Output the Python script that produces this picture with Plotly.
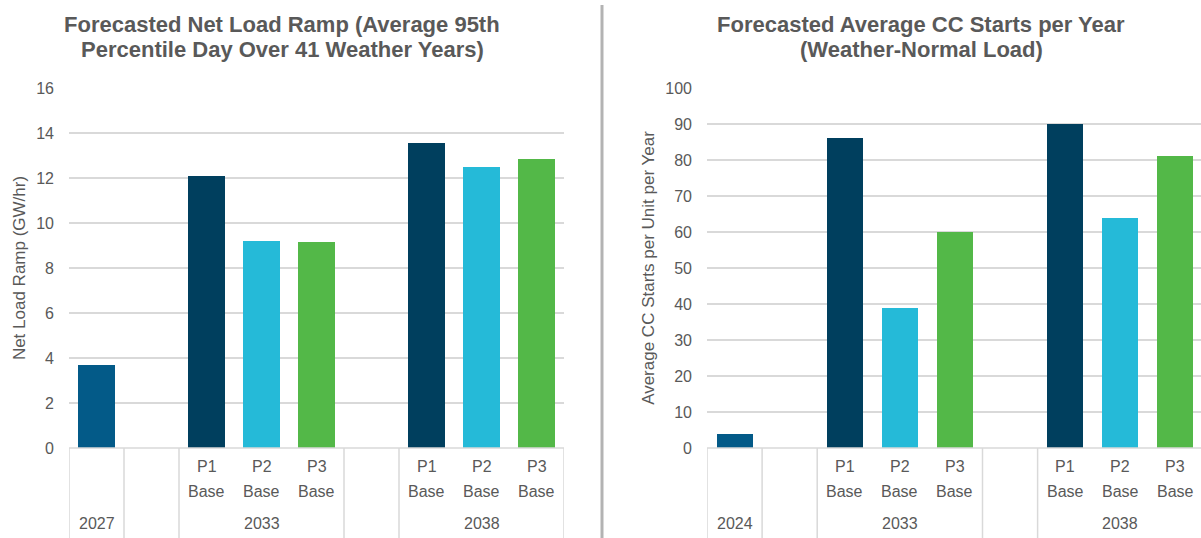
import plotly.graph_objects as go

# ---------------- data ----------------
scenarios = ["P1", "P2", "P3"]
scenario_case = "Base"

ramp_base_year = "2027"
ramp_base_value = 3.7
ramp_years = ["2033", "2038"]
ramp_2033 = [12.1, 9.2, 9.15]
ramp_2038 = [13.55, 12.5, 12.85]

starts_base_year = "2024"
starts_base_value = 4
starts_years = ["2033", "2038"]
starts_2033 = [86, 39, 60]
starts_2038 = [90, 64, 81]

ramp_ticks = [0, 2, 4, 6, 8, 10, 12, 14, 16]
starts_ticks = [0, 10, 20, 30, 40, 50, 60, 70, 80, 90, 100]

left_title = ["Forecasted Net Load Ramp (Average 95th", "Percentile Day Over 41 Weather Years)"]
right_title = ["Forecasted Average CC Starts per Year", "(Weather-Normal Load)"]
left_ytitle = "Net Load Ramp (GW/hr)"
right_ytitle = "Average CC Starts per Unit per Year"

# ---------------- style ----------------
W, H = 1201, 538
BASE_COLOR = "#035a88"
SCEN_COLORS = ["#003f5e", "#25bad8", "#53b848"]
GRID = "#d9d9d9"
TXT = "#595959"
FONT = "Liberation Sans, Arial, sans-serif"
BAR_W = 0.655

# slot positions: base year at 0, gap at 1, group A at 2-4, gap at 5, group B at 6-8
base_pos = 0
groupA_pos = [2, 3, 4]
groupB_pos = [6, 7, 8]
dividers = [-0.5, 0.5, 1.5, 4.5, 5.5, 8.5]

def px_x(p):
    return p / W

def px_y(p):
    return (H - p) / H

y_dom = [px_y(448), px_y(88)]

fig = go.Figure()

def label(xa, x, ypix, text, size=16):
    fig.add_annotation(x=x, y=px_y(ypix), xref=xa, yref="paper", text=text,
                       showarrow=False, font=dict(size=size, color=TXT, family=FONT),
                       xanchor="center", yanchor="middle")

def add_panel(xa, ya, base_year, base_val, years, vals_a, vals_b):
    fig.add_trace(go.Bar(x=[base_pos], y=[base_val], marker_color=BASE_COLOR,
                         width=BAR_W, xaxis=xa, yaxis=ya, showlegend=False,
                         marker_line_width=0))
    for i, s in enumerate(scenarios):
        fig.add_trace(go.Bar(x=[groupA_pos[i], groupB_pos[i]], y=[vals_a[i], vals_b[i]],
                             marker_color=SCEN_COLORS[i], width=BAR_W, name=s,
                             xaxis=xa, yaxis=ya, showlegend=False, marker_line_width=0))
    # axis baseline
    fig.add_shape(type="line", xref=xa, yref="paper", x0=-0.5, x1=8.5, y0=px_y(448), y1=px_y(448),
                  line=dict(color=GRID, width=1.5), layer="above")
    # dividers
    for d in dividers:
        fig.add_shape(type="line", xref=xa, yref="paper", x0=d, x1=d, y0=px_y(448), y1=0,
                      line=dict(color=GRID, width=1.5))
    # labels
    for i, s in enumerate(scenarios):
        for p in (groupA_pos[i], groupB_pos[i]):
            label(xa, p, 466, s)
            label(xa, p, 491, scenario_case)
    label(xa, base_pos, 523, base_year)
    label(xa, groupA_pos[1], 523, years[0])
    label(xa, groupB_pos[1], 523, years[1])

add_panel("x", "y", ramp_base_year, ramp_base_value, ramp_years, ramp_2033, ramp_2038)
add_panel("x2", "y2", starts_base_year, starts_base_value, starts_years, starts_2033, starts_2038)

axis_common = dict(showgrid=False, zeroline=False, showticklabels=False, showline=False,
                   ticks="", fixedrange=True, automargin=False)
yaxis_common = dict(showgrid=True, gridcolor=GRID, gridwidth=1.5, zeroline=False,
                    showline=False, ticks="", tickfont=dict(size=16, color=TXT, family=FONT),
                    ticklabelstandoff=14, automargin=False)

fig.update_layout(
    width=W, height=H,
    margin=dict(l=0, r=0, t=0, b=0, pad=0, autoexpand=False),
    paper_bgcolor="white", plot_bgcolor="white",
    bargap=0,
    xaxis=dict(domain=[px_x(69), px_x(564)], range=[-0.5, 8.5], **axis_common),
    xaxis2=dict(domain=[px_x(707), 1.0], range=[-0.5, -0.5 + (1201 - 707) / 55.1], **axis_common),
    yaxis=dict(domain=y_dom, range=[0, 16], tickvals=ramp_ticks, anchor="x",
               title=dict(text=left_ytitle, font=dict(size=17, color=TXT, family=FONT), standoff=6),
               **yaxis_common),
    yaxis2=dict(domain=y_dom, range=[0, 100], tickvals=starts_ticks, anchor="x2",
                title=dict(text=right_ytitle, font=dict(size=17, color=TXT, family=FONT), standoff=6),
                **yaxis_common),
)

# titles (one annotation per line to keep the tight line spacing)
for cx, lines in ((282, left_title), (921, right_title)):
    for j, line in enumerate(lines):
        fig.add_annotation(x=px_x(cx), y=px_y(25 + 25 * j), xref="paper", yref="paper", text=line,
                           showarrow=False, font=dict(size=22, color=TXT, family=FONT, weight="bold"),
                           xanchor="center", yanchor="middle")

# separator between the two panels
fig.add_shape(type="line", xref="paper", yref="paper", x0=px_x(602), x1=px_x(602), y0=0, y1=px_y(5),
              line=dict(color="#b3b3b3", width=3))

fig.write_html("out.html")
